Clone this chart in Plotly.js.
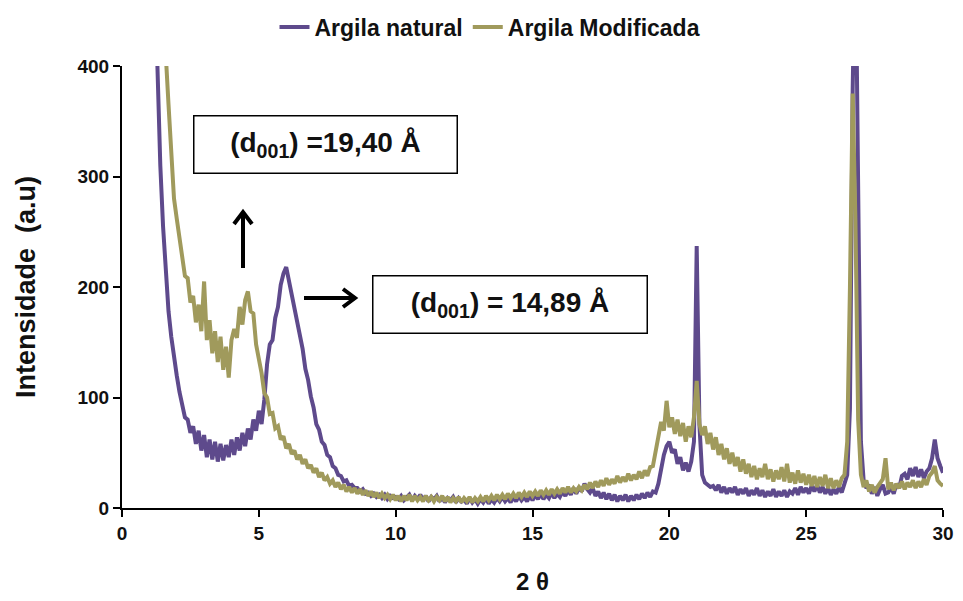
<!DOCTYPE html>
<html>
<head>
<meta charset="utf-8">
<script src="https://cdn.plot.ly/plotly-3.0.1.min.js"></script>
<style>html,body{margin:0;padding:0;background:#fff;}#chart{width:963px;height:601px;}</style>
</head>
<body>
<div id="chart"></div>
<script>
const twoTheta = [
1.2,1.3,1.4,1.5,1.6,1.7,1.8,1.9,
2.0,2.1,2.2,2.3,2.4,2.5,2.6,2.7,2.8,2.9,
3.0,3.1,3.2,3.3,3.4,3.5,3.6,3.7,3.8,3.9,
4.0,4.1,4.2,4.3,4.4,4.5,4.6,4.7,4.8,4.9,
5.0,5.1,5.2,5.3,5.4,5.5,5.6,5.7,5.8,5.9,
6.0,6.1,6.2,6.3,6.4,6.5,6.6,6.7,6.8,6.9,
7.0,7.1,7.2,7.3,7.4,7.5,7.6,7.7,7.8,7.9,
8.0,8.1,8.2,8.3,8.4,8.5,8.6,8.7,8.8,8.9,
9.0,9.1,9.2,9.3,9.4,9.5,9.6,9.7,9.8,9.9,
10.0,10.1,10.2,10.3,10.4,10.5,10.6,10.7,10.8,10.9,
11.0,11.1,11.2,11.3,11.4,11.5,11.6,11.7,11.8,11.9,
12.0,12.1,12.2,12.3,12.4,12.5,12.6,12.7,12.8,12.9,
13.0,13.1,13.2,13.3,13.4,13.5,13.6,13.7,13.8,13.9,
14.0,14.1,14.2,14.3,14.4,14.5,14.6,14.7,14.8,14.9,
15.0,15.1,15.2,15.3,15.4,15.5,15.6,15.7,15.8,15.9,
16.0,16.1,16.2,16.3,16.4,16.5,16.6,16.7,16.8,16.9,
17.0,17.1,17.2,17.3,17.4,17.5,17.6,17.7,17.8,17.9,
18.0,18.1,18.2,18.3,18.4,18.5,18.6,18.7,18.8,18.9,
19.0,19.1,19.2,19.3,19.4,19.5,19.6,19.7,19.8,19.9,
20.0,20.1,20.2,20.3,20.4,20.5,20.6,20.7,20.8,20.9,
21.0,21.1,21.2,21.3,21.4,21.5,21.6,21.7,21.8,21.9,
22.0,22.1,22.2,22.3,22.4,22.5,22.6,22.7,22.8,22.9,
23.0,23.1,23.2,23.3,23.4,23.5,23.6,23.7,23.8,23.9,
24.0,24.1,24.2,24.3,24.4,24.5,24.6,24.7,24.8,24.9,
25.0,25.1,25.2,25.3,25.4,25.5,25.6,25.7,25.8,25.9,
26.0,26.1,26.2,26.3,26.4,26.5,26.6,26.7,26.8,26.9,
27.0,27.1,27.2,27.3,27.4,27.5,27.6,27.7,27.8,27.9,
28.0,28.1,28.2,28.3,28.4,28.5,28.6,28.7,28.8,28.9,
29.0,29.1,29.2,29.3,29.4,29.5,29.6,29.7,29.8,29.9,
30.0];

const argilaNatural = [
480,390,310,255,210,178,155,135,
120,105,95,82,80,68,74,58,70,52,
66,46,62,44,60,42,58,43,57,46,
62,48,64,52,68,56,72,62,80,70,
88,76,98,130,148,152,172,182,202,212,
218,206,196,180,171,156,144,126,116,101,
91,76,71,60,57,48,46,38,36,30,
29,24,25,20,21,18,18,15,17,13,
14,11,13,10,12,9,12,8,11,9,
10,8,11,7,10,12,7,11,8,12,
7,11,6,10,8,11,6,10,5,9,
7,10,5,9,6,8,4,9,5,8,
4,8,5,9,4,8,5,9,6,10,
6,9,5,10,6,11,7,10,6,11,
7,12,8,13,8,12,9,14,9,13,
10,15,11,16,12,18,13,19,15,22,
17,14,18,11,15,9,14,8,13,7,
12,6,11,7,12,6,11,7,12,8,
13,9,14,10,15,14,22,35,48,56,
60,50,53,40,46,34,41,33,42,60,
237,75,30,23,21,19,20,16,21,14,
19,13,18,14,19,12,17,13,18,11,
16,12,18,11,16,10,15,11,17,10,
15,11,16,10,15,13,18,12,19,14,
18,13,20,15,21,14,19,13,18,12,
17,13,19,14,22,30,90,380,520,300,
60,25,18,21,13,19,11,17,21,13,
14,19,13,22,18,29,31,26,36,29,
37,28,35,27,33,36,45,62,45,38,
32];

const argilaModificada = [
700,620,540,470,410,365,320,280,
262,245,228,210,208,186,192,168,184,160,
205,152,170,140,160,132,155,125,146,118,
152,162,154,182,166,188,196,178,176,148,
135,122,104,100,85,86,72,74,62,65,
54,58,49,52,44,48,40,44,36,39,
32,36,28,32,25,28,22,25,19,23,
17,21,15,19,14,18,13,17,12,16,
11,15,10,14,9,13,9,12,8,12,
7,11,6,11,7,12,6,11,7,10,
6,11,7,10,6,10,7,11,6,10,
5,9,6,10,5,9,6,10,5,9,
6,10,6,11,7,11,7,12,8,12,
8,13,9,13,9,14,10,14,10,15,
11,15,11,16,12,16,12,17,13,17,
13,18,14,19,14,18,15,19,16,21,
17,23,18,24,19,25,20,27,21,26,
22,29,23,28,24,31,25,30,26,33,
27,34,29,37,38,50,65,78,70,97,
73,82,67,80,65,77,60,74,64,82,
115,76,66,74,58,68,53,64,48,58,
44,54,40,50,38,46,33,44,31,40,
28,38,26,36,28,40,26,35,24,34,
26,37,24,40,23,32,22,34,23,31,
21,30,20,29,19,28,20,30,18,27,
18,25,19,27,30,60,200,375,260,80,
30,19,25,15,21,14,19,22,26,45,
17,23,16,22,18,24,17,23,19,25,
18,24,19,26,21,29,32,38,25,22,
20];

const seriesNames = ['Argila natural', 'Argila Modificada'];
const xTickVals = [0, 5, 10, 15, 20, 25, 30];
const yTickVals = [0, 100, 200, 300, 400];
const labelTop = '(d<sub>001</sub>) =19,40 Å';
const labelRight = '(d<sub>001</sub>) = 14,89 Å';

const purple = '#5e4a8c';
const olive = '#a09a5c';
const FONT = 'Arial, "Liberation Sans", sans-serif';

// plot-area geometry (pixels) used only to place the decorative arrows/boxes
const PL = 122, PR = 943, PT = 66, PB = 508;
const px = v => (v - PL) / (PR - PL);
const py = v => (PB - v) / (PB - PT);

const traces = [
  {x: twoTheta, y: argilaNatural, type: 'scatter', mode: 'lines', name: seriesNames[0],
   line: {color: purple, width: 4}},
  {x: twoTheta, y: argilaModificada, type: 'scatter', mode: 'lines', name: seriesNames[1],
   line: {color: olive, width: 4}}
];

const axisCommon = {
  showline: true, linecolor: '#000', linewidth: 2,
  ticks: 'outside', ticklen: 7, tickwidth: 2, tickcolor: '#000',
  showgrid: false, zeroline: false,
  tickfont: {family: FONT, size: 19, color: '#111', weight: 'bold'}
};

const arrowLine = {color: '#000', width: 4};

const layout = {
  width: 963, height: 601,
  margin: {l: PL, r: 963 - PR, t: PT, b: 601 - PB, autoexpand: false},
  paper_bgcolor: '#fff', plot_bgcolor: '#fff',
  showlegend: true,
  legend: {orientation: 'h', x: px(490), xanchor: 'center', y: py(27), yanchor: 'middle',
           font: {family: FONT, size: 23, color: '#111', weight: 'bold'},
           itemwidth: 30, traceorder: 'normal'},
  xaxis: Object.assign({}, axisCommon, {
    range: [0, 30], tickvals: xTickVals,
    title: {text: '2 θ', font: {family: FONT, size: 24, color: '#111', weight: 'bold'}, standoff: 30}
  }),
  yaxis: Object.assign({}, axisCommon, {
    range: [0, 400], tickvals: yTickVals,
    title: {text: 'Intensidade\u00a0\u00a0(a.u)', font: {family: FONT, size: 27, color: '#111', weight: 'bold'}, standoff: 34}
  }),
  annotations: [
    {xref: 'paper', yref: 'paper', x: px(325), y: py(144.5), xanchor: 'center', yanchor: 'middle',
     text: '<b>' + labelTop + '</b>', showarrow: false,
     font: {family: FONT, size: 28, color: '#111'},
     bordercolor: '#000', borderwidth: 1.5, borderpad: 1, bgcolor: '#fff',
     width: 260, height: 54},
    {xref: 'paper', yref: 'paper', x: px(510), y: py(304), xanchor: 'center', yanchor: 'middle',
     text: '<b>' + labelRight + '</b>', showarrow: false,
     font: {family: FONT, size: 28, color: '#111'},
     bordercolor: '#000', borderwidth: 1.5, borderpad: 1, bgcolor: '#fff',
     width: 271, height: 54}
  ],
  shapes: [
    {type: 'line', xref: 'paper', yref: 'paper', x0: px(243), x1: px(243), y0: py(268), y1: py(214), line: arrowLine},
    {type: 'path', xref: 'paper', yref: 'paper',
     path: 'M' + px(234) + ',' + py(224) + ' L' + px(243) + ',' + py(212) + ' L' + px(252) + ',' + py(224),
     line: arrowLine},
    {type: 'line', xref: 'paper', yref: 'paper', x0: px(304), x1: px(353), y0: py(298), y1: py(298), line: arrowLine},
    {type: 'path', xref: 'paper', yref: 'paper',
     path: 'M' + px(343) + ',' + py(289) + ' L' + px(355) + ',' + py(298) + ' L' + px(343) + ',' + py(307),
     line: arrowLine}
  ]
};

Plotly.newPlot('chart', traces, layout, {displayModeBar: false, staticPlot: true});
</script>
</body>
</html>
